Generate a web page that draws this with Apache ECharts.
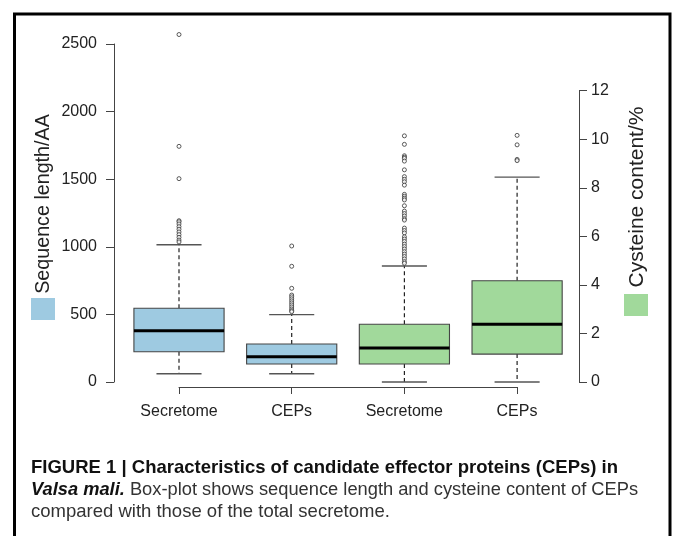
<!DOCTYPE html>
<html>
<head>
<meta charset="utf-8">
<script src="https://cdn.jsdelivr.net/npm/echarts@6/dist/echarts.min.js"></script>
<style>
  html, body { margin: 0; padding: 0; background: #fff; }
  #main { width: 675px; height: 536px; }
</style>
</head>
<body>
<div id="main"></div>
<script>
// categories along the bottom
var categories = ['Secretome', 'CEPs', 'Secretome', 'CEPs'];

// box stats: lower whisker, Q1, median, Q3, upper whisker
var secretomeLen = [61, 224, 379, 545, 1015];
var cepLen = [61, 133, 187, 281, 498];
var secretomeCys = [0, 0.74, 1.40, 2.38, 4.78];
var cepCys = [0, 1.15, 2.38, 4.17, 8.44];

// outliers
var secretomeLenOut = [2570, 1743, 1504, 1193, 1185, 1169, 1149, 1130, 1110, 1090, 1070, 1050, 1036];
var cepLenOut = [1006, 856, 693, 643, 630, 615, 600, 585, 570, 555, 540, 528, 520];
var secretomeCysOut = [10.14, 9.79, 9.32, 9.26, 9.21, 9.10, 8.74, 8.46, 8.35, 8.25, 8.11,
  7.73, 7.65, 7.57, 7.50, 7.26, 7.04, 6.94, 6.84, 6.73, 6.67, 6.34, 6.24, 6.14,
  5.98, 5.89, 5.79, 5.68, 5.58, 5.48, 5.37, 5.27, 5.17, 5.07, 4.96, 4.89];
var cepCysOut = [10.16, 9.77, 9.17, 9.12];

// axes
var lenAxis = { min: 0, max: 2500, step: 500 };
var cysAxis = { min: 0, max: 12, step: 2 };

var FONT = 'Liberation Sans, Arial, Helvetica, sans-serif';
var BLUE = '#9ecae1';
var GREEN = '#a1d99b';

function boxRow(idx, s) { return [idx].concat(s); }
function outRows(idx, arr) { return arr.map(function (v) { return [idx, v]; }); }
function plain(v) { return String(v); }

// R style box: dashed whiskers, half width staples, thick median
function renderBox(color) {
  return function (params, api) {
    var x = api.value(0);
    var lo = api.coord([x, api.value(1)]);
    var q1 = api.coord([x, api.value(2)]);
    var md = api.coord([x, api.value(3)]);
    var q3 = api.coord([x, api.value(4)]);
    var hi = api.coord([x, api.value(5)]);
    var band = api.size([1, 0])[0];
    var w = band * 0.8;
    var cx = lo[0];
    var dash = { stroke: '#222', lineWidth: 1.2, lineDash: [4, 3] };
    var cap = { stroke: '#555', lineWidth: 1.4 };
    return {
      type: 'group',
      children: [
        { type: 'line', shape: { x1: cx, y1: q3[1], x2: cx, y2: hi[1] }, style: dash },
        { type: 'line', shape: { x1: cx, y1: q1[1], x2: cx, y2: lo[1] }, style: dash },
        { type: 'line', shape: { x1: cx - w / 4, y1: hi[1], x2: cx + w / 4, y2: hi[1] }, style: cap },
        { type: 'line', shape: { x1: cx - w / 4, y1: lo[1], x2: cx + w / 4, y2: lo[1] }, style: cap },
        { type: 'rect', shape: { x: cx - w / 2, y: q3[1], width: w, height: q1[1] - q3[1] },
          style: { fill: color, stroke: '#444', lineWidth: 1.1 } },
        { type: 'line', shape: { x1: cx - w / 2, y1: md[1], x2: cx + w / 2, y2: md[1] },
          style: { stroke: '#000', lineWidth: 3 } }
      ]
    };
  };
}

var chart = echarts.init(document.getElementById('main'), null, { renderer: 'canvas' });

var outlierStyle = { color: '#fff', borderColor: '#333', borderWidth: 1 };

var option = {
  animation: false,
  backgroundColor: '#fff',
  textStyle: { fontFamily: FONT },
  grid: [
    { left: 122.65, right: 101.55, top: 44, bottom: 154 },
    { left: 122.65, right: 101.55, top: 90.7, bottom: 154 },
    { left: 179, right: 158, top: 300, bottom: 149 }
  ],
  xAxis: [
    { type: 'category', gridIndex: 0, data: categories, show: false },
    { type: 'category', gridIndex: 1, data: categories, show: false },
    {
      type: 'value', gridIndex: 2, min: 1, max: 4, interval: 1,
      axisLine: { lineStyle: { color: '#444', width: 1 } },
      axisTick: { inside: false, length: 7, lineStyle: { color: '#444' } },
      splitLine: { show: false },
      axisLabel: {
        margin: 17, fontSize: 16, color: '#222', fontFamily: FONT,
        formatter: function (v) { return categories[v - 1]; }
      }
    }
  ],
  yAxis: [
    {
      type: 'value', gridIndex: 0, position: 'left', offset: 8.65,
      min: lenAxis.min, max: lenAxis.max, interval: lenAxis.step,
      axisLine: { show: true, lineStyle: { color: '#444', width: 1 } },
      axisTick: { show: true, length: 8, lineStyle: { color: '#444' } },
      splitLine: { show: false },
      axisLabel: { margin: 17, fontSize: 16, color: '#222', fontFamily: FONT, formatter: plain }
    },
    {
      type: 'value', gridIndex: 1, position: 'right', offset: 5.55,
      min: cysAxis.min, max: cysAxis.max, interval: cysAxis.step,
      axisLine: { show: true, lineStyle: { color: '#444', width: 1 } },
      axisTick: { show: true, length: 8, lineStyle: { color: '#444' } },
      splitLine: { show: false },
      axisLabel: { margin: 12, fontSize: 16, color: '#222', fontFamily: FONT, formatter: plain }
    },
    { type: 'value', gridIndex: 2, min: 0, max: 1, show: false }
  ],
  series: [
    {
      type: 'custom', xAxisIndex: 0, yAxisIndex: 0, clip: false,
      renderItem: renderBox(BLUE),
      encode: { x: 0, y: [1, 2, 3, 4, 5] },
      data: [boxRow(0, secretomeLen), boxRow(1, cepLen)]
    },
    {
      type: 'custom', xAxisIndex: 1, yAxisIndex: 1, clip: false,
      renderItem: renderBox(GREEN),
      encode: { x: 0, y: [1, 2, 3, 4, 5] },
      data: [boxRow(2, secretomeCys), boxRow(3, cepCys)]
    },
    {
      type: 'scatter', xAxisIndex: 0, yAxisIndex: 0, clip: false,
      symbol: 'circle', symbolSize: 4, itemStyle: outlierStyle,
      data: outRows(0, secretomeLenOut).concat(outRows(1, cepLenOut))
    },
    {
      type: 'scatter', xAxisIndex: 1, yAxisIndex: 1, clip: false,
      symbol: 'circle', symbolSize: 4, itemStyle: outlierStyle,
      data: outRows(2, secretomeCysOut).concat(outRows(3, cepCysOut))
    }
  ],
  graphic: [
    // figure frame
    {
      type: 'polyline', silent: true,
      shape: { points: [[14.5, 540], [14.5, 14], [670, 14], [670, 540]] },
      style: { stroke: '#000', lineWidth: 3, fill: null }
    },
    // legend swatches
    { type: 'rect', shape: { x: 31, y: 298, width: 24, height: 22 }, style: { fill: BLUE } },
    { type: 'rect', shape: { x: 624, y: 294, width: 24, height: 22 }, style: { fill: GREEN } },
    // axis titles
    {
      type: 'text', x: 44, y: 204, rotation: Math.PI / 2,
      style: { text: 'Sequence length/AA', font: '19.7px ' + FONT, fill: '#222', align: 'center', verticalAlign: 'middle' }
    },
    {
      type: 'text', x: 637, y: 197, rotation: Math.PI / 2,
      style: { text: 'Cysteine content/%', font: '21px ' + FONT, fill: '#222', align: 'center', verticalAlign: 'middle' }
    },
    // caption
    {
      type: 'text', x: 31, y: 468,
      style: {
        text: 'FIGURE 1 | Characteristics of candidate effector proteins (CEPs) in',
        font: 'bold 18.5px ' + FONT, fill: '#111', verticalAlign: 'middle'
      }
    },
    {
      type: 'text', x: 31, y: 490,
      style: {
        text: '{b|Valsa mali.}{n| Box-plot shows sequence length and cysteine content of CEPs}',
        verticalAlign: 'middle',
        rich: {
          b: { fontFamily: FONT, fontSize: 18.3, fontWeight: 'bold', fontStyle: 'italic', fill: '#111' },
          n: { fontFamily: FONT, fontSize: 18.3, fill: '#333' }
        }
      }
    },
    {
      type: 'text', x: 31, y: 512,
      style: {
        text: 'compared with those of the total secretome.',
        font: '18.5px ' + FONT, fill: '#333', verticalAlign: 'middle'
      }
    }
  ]
};

chart.setOption(option);
</script>
</body>
</html>
